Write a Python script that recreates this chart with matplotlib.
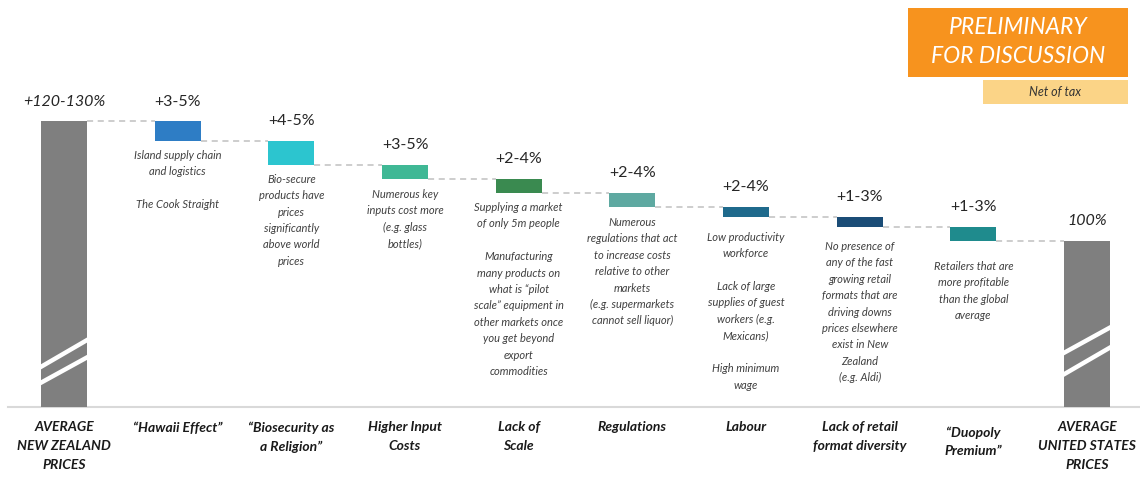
import matplotlib.pyplot as plt
from matplotlib.patches import Rectangle
import numpy as np

plt.rcParams['font.family'] = ['Lato', 'DejaVu Sans']

# ---- data -------------------------------------------------------------
categories = [
    "AVERAGE\nNEW ZEALAND\nPRICES",
    "\u201cHawaii Effect\u201d",
    "\u201cBiosecurity as\na Religion\u201d",
    "Higher Input\nCosts",
    "Lack of\nScale",
    "Regulations",
    "Labour",
    "Lack of retail\nformat diversity",
    "\u201cDuopoly\nPremium\u201d",
    "AVERAGE\nUNITED STATES\nPRICES",
]
nz_level = 172.0
steps = [12, 14, 8.5, 8.5, 8.5, 6, 6, 8.5]
range_labels = ["+120-130%", "+3-5%", "+4-5%", "+3-5%", "+2-4%",
                "+2-4%", "+2-4%", "+1-3%", "+1-3%", "100%"]
descriptions = [
    "Island supply chain\nand logistics\n\nThe Cook Straight",
    "Bio-secure\nproducts have\nprices\nsignificantly\nabove world\nprices",
    "Numerous key\ninputs cost more\n(e.g. glass\nbottles)",
    "Supplying a market\nof only 5m people\n\nManufacturing\nmany products on\n"
    "what is \u201cpilot\nscale\u201d equipment in\nother markets once\n"
    "you get beyond\nexport\ncommodities",
    "Numerous\nregulations that act\nto increase costs\nrelative to other\n"
    "markets\n(e.g. supermarkets\ncannot sell liquor)",
    "Low productivity\nworkforce\n\nLack of large\nsupplies of guest\n"
    "workers (e.g.\nMexicans)\n\nHigh minimum\nwage",
    "No presence of\nany of the fast\ngrowing retail\nformats that are\n"
    "driving downs\nprices elsewhere\nexist in New\nZealand\n(e.g. Aldi)",
    "Retailers that are\nmore profitable\nthan the global\naverage",
]
step_colors = ["#2e7dc5", "#2cc5cf", "#3fb895", "#3a8a50",
               "#5ea9a1", "#1f6a8c", "#1b4d77", "#1f8b8d"]
total_color = "#7f7f7f"
desc_gap = [5.0, 5.5, 6.0, 5.5, 6.0, 9.0, 8.5, 12.0]

# ---- derived levels ---------------------------------------------------
tops = [nz_level]
bottoms = [0.0]
level = nz_level
for s in steps:
    tops.append(level)
    level -= s
    bottoms.append(level)
us_level = level
tops.append(us_level)
bottoms.append(0.0)

x = np.arange(len(categories))
width = 0.405

fig = plt.figure(figsize=(11.4, 4.8), dpi=100)
ax = fig.add_axes([0, 0, 1, 1])
ax.set_xlim(-0.563, 9.466)
ax.set_ylim(-44, 245.2)
ax.axis("off")

colors = [total_color] + step_colors + [total_color]
heights = [t - b for t, b in zip(tops, bottoms)]
ax.bar(x, heights, bottom=bottoms, width=width, color=colors, zorder=2)

# baseline
ax.plot([-0.49, 9.466], [0, 0], color="#d9d9d9", lw=1.5, zorder=1)

# dashed connectors
for i in range(len(x) - 1):
    ax.plot([x[i] + width / 2, x[i + 1] - width / 2], [tops[i + 1], tops[i + 1]],
            color="#c0c0c0", lw=1.1, ls=(0, (4, 3)), zorder=1)

# break marks on the total bars
for xi, (y1, y2), (y3, y4) in [(x[0], (24, 40.5), (14.5, 30)),
                               (x[-1], (32.5, 48), (19.5, 36))]:
    for a, b in [(y1, y2), (y3, y4)]:
        ax.plot([xi - width / 2 - 0.03, xi + width / 2 + 0.03],
                [a - 1.0, b + 1.0], color="white", lw=3.2,
                solid_capstyle="butt", zorder=3)

# range labels
for i, lab in enumerate(range_labels):
    italic = i in (0, len(range_labels) - 1)
    ax.text(x[i], tops[i] + 12, lab, ha="center", va="center",
            fontsize=11.5, color="#262626",
            style="italic" if italic else "normal")

# descriptions
for i, d in enumerate(descriptions):
    ax.text(x[i + 1], bottoms[i + 1] - desc_gap[i], d, ha="center", va="top",
            fontsize=8, style="italic", color="#404040", linespacing=1.6)

# category labels
for i, c in enumerate(categories):
    y0 = -8.5 if i != 8 else -11.5
    ax.text(x[i], y0, c, ha="center", va="top", fontsize=10,
            fontweight="bold", style="italic", color="#1a1a1a",
            linespacing=1.68)

# header boxes


def fr(px, py, w, h):
    return (px / 1140, 1 - (py + h) / 480), w / 1140, h / 480


(bx, by), bw, bh = fr(908, 8, 220, 69)
fig.patches.append(Rectangle((bx, by), bw, bh, transform=fig.transFigure,
                             facecolor="#f7931e", edgecolor="none"))
fig.text((908 + 110) / 1140, 1 - 42 / 480, "PRELIMINARY\nFOR DISCUSSION",
         ha="center", va="center", color="white", fontsize=16.5,
         style="italic", linespacing=1.42)
(nx, ny), nw, nh = fr(983, 80, 145, 24)
fig.patches.append(Rectangle((nx, ny), nw, nh, transform=fig.transFigure,
                             facecolor="#fbd487", edgecolor="none"))
fig.text((983 + 72) / 1140, 1 - 92 / 480, "Net of tax", ha="center",
         va="center", color="#333333", fontsize=9, style="italic")

fig.savefig("out.png", dpi=100)
